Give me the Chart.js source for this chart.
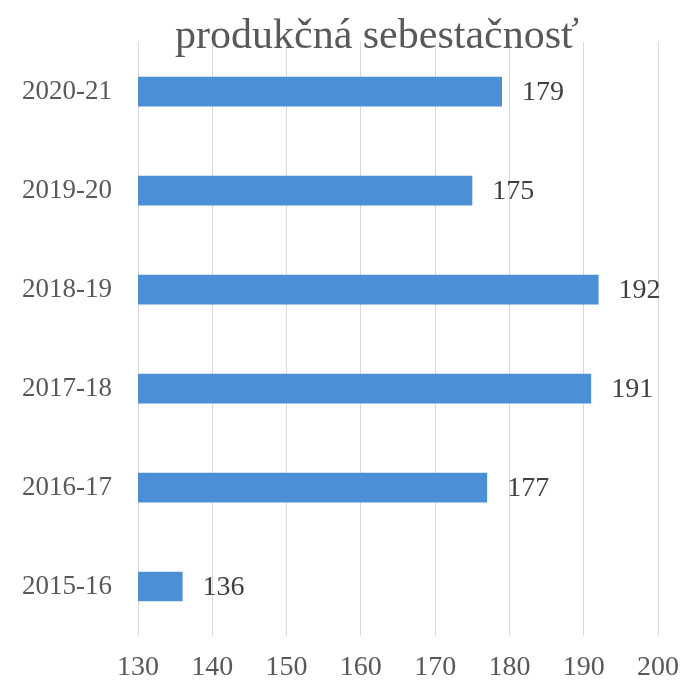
<!DOCTYPE html>
<html>
<head>
<meta charset="utf-8">
<script src="https://cdn.jsdelivr.net/npm/chart.js@4/dist/chart.umd.min.js"></script>
<style>
  html, body { margin: 0; padding: 0; background: #ffffff; }
  #wrap { width: 687px; height: 685px; }
</style>
</head>
<body>
<div id="wrap"><canvas id="c" width="687" height="685"></canvas></div>
<script>
const chartTitle = 'produkčná sebestačnosť';
const categories = ['2020-21', '2019-20', '2018-19', '2017-18', '2016-17', '2015-16'];
const values = [179, 175, 192, 191, 177, 136];
const xMin = 130;
const xMax = 200;
const xStep = 10;

const FONT = "'Liberation Serif', 'Times New Roman', serif";
const TEXT = '#595959';

const titlePlugin = {
  id: 'customTitle',
  afterDraw(chart) {
    const ctx = chart.ctx;
    ctx.save();
    ctx.font = '42px ' + FONT;
    ctx.fillStyle = TEXT;
    ctx.textAlign = 'center';
    ctx.textBaseline = 'alphabetic';
    ctx.fillText(chartTitle, 377, 48);
    ctx.restore();
  }
};

const valueLabels = {
  id: 'valueLabels',
  afterDatasetsDraw(chart) {
    const ctx = chart.ctx;
    const meta = chart.getDatasetMeta(0);
    ctx.save();
    ctx.font = '28px ' + FONT;
    ctx.fillStyle = '#404040';
    ctx.textAlign = 'left';
    ctx.textBaseline = 'middle';
    meta.data.forEach((bar, i) => {
      ctx.fillText(String(chart.data.datasets[0].data[i]), bar.x + 20, bar.y + 1);
    });
    ctx.restore();
  }
};

new Chart(document.getElementById('c'), {
  type: 'bar',
  data: {
    labels: categories,
    datasets: [{
      data: values,
      backgroundColor: '#4b8fd7',
      borderWidth: 0,
      categoryPercentage: 1.0,
      barPercentage: 0.3
    }]
  },
  plugins: [titlePlugin, valueLabels],
  options: {
    indexAxis: 'y',
    responsive: false,
    animation: false,
    layout: { padding: { top: 38, right: 29, left: 0, bottom: 0 } },
    plugins: {
      legend: { display: false },
      title: { display: false },
      tooltip: { enabled: false }
    },
    scales: {
      x: {
        min: xMin,
        max: xMax,
        ticks: {
          stepSize: xStep,
          color: TEXT,
          font: { family: FONT, size: 28 },
          padding: 15,
          maxRotation: 0
        },
        grid: { color: '#d9d9d9', lineWidth: 1, drawTicks: false },
        border: { display: false },
        afterFit(scale) {
          scale.height = 49;
          scale.paddingRight = 0;
          scale.paddingLeft = 0;
        }
      },
      y: {
        ticks: {
          color: TEXT,
          font: { family: FONT, size: 27 },
          padding: 26
        },
        grid: { display: false, drawTicks: false },
        border: { display: false },
        afterFit(scale) { scale.width = 138; }
      }
    }
  }
});
</script>
</body>
</html>
